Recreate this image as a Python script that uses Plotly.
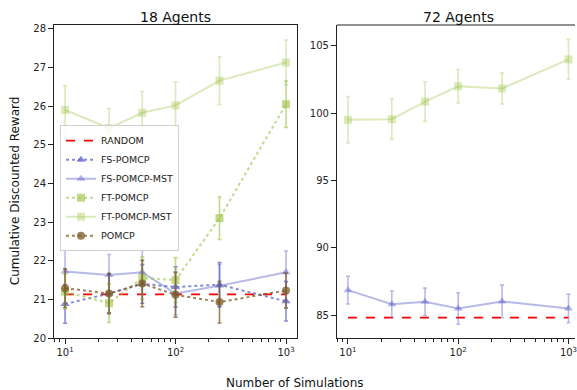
import plotly.graph_objects as go

# ---------------- data ----------------
sims = [10, 25, 50, 100, 250, 1000]

# 18 agents
random_18 = [21.13, 21.13, 21.13, 21.13, 21.13, 21.13]
fs_pomcp_18 = [20.88, 21.15, 21.40, 21.32, 21.38, 20.95]
fs_pomcp_18_err = [0.50, 0.50, 0.50, 0.52, 0.57, 0.51]
fs_mst_18 = [21.72, 21.63, 21.70, 21.15, 21.35, 21.70]
fs_mst_18_err = [0.55, 0.53, 0.57, 0.55, 0.55, 0.55]
ft_pomcp_18 = [21.20, 20.90, 21.55, 21.50, 23.10, 26.05]
ft_pomcp_18_err = [0.45, 0.50, 0.55, 0.58, 0.55, 0.60]
ft_mst_18 = [25.90, 25.43, 25.83, 26.02, 26.66, 27.13]
ft_mst_18_err = [0.63, 0.51, 0.55, 0.61, 0.62, 0.58]
pomcp_18 = [21.29, 21.15, 21.41, 21.12, 20.93, 21.23]
pomcp_18_err = [0.50, 0.52, 0.60, 0.58, 0.54, 0.45]

# 72 agents
random_72 = [84.83, 84.83, 84.83, 84.83, 84.83, 84.83]
ft_mst_72 = [99.50, 99.55, 100.85, 101.99, 101.82, 103.98]
ft_mst_72_err = [1.72, 1.50, 1.47, 1.24, 1.14, 1.49]
fs_mst_72 = [86.87, 85.83, 86.00, 85.51, 86.03, 85.51]
fs_mst_72_err = [1.03, 0.98, 1.02, 1.17, 1.21, 1.06]

x_tickvals = [10, 100, 1000]
x_ticktext = ["10<sup>1</sup>", "10<sup>2</sup>", "10<sup>3</sup>"]
y18_ticks = [20, 21, 22, 23, 24, 25, 26, 27, 28]
y72_ticks = [85, 90, 95, 100, 105]

# ---------------- styles ----------------
FS_DARK = "rgba(95,100,205,0.75)"
FS_LIGHT = "rgba(95,100,205,0.45)"
FT_DARK = "rgba(160,198,75,0.65)"
FT_LIGHT = "rgba(160,198,75,0.38)"
PO = "rgba(125,90,35,0.75)"
RED = "#ff0000"
FONT = "DejaVu Sans"

fig = go.Figure()


def add(name, y, err, color, dash, symbol, xa, ya, show):
    fig.add_trace(go.Scatter(
        x=sims, y=y, name=name, mode="lines+markers",
        line=dict(color=color, width=2, dash=dash),
        marker=dict(color=color, symbol=symbol, size=8, line=dict(width=0)),
        error_y=dict(type="data", array=err, visible=True, color=color,
                     thickness=1.6, width=2),
        xaxis=xa, yaxis=ya, showlegend=show, legendgroup=name,
    ))


# left panel
fig.add_trace(go.Scatter(x=sims, y=random_18, name="RANDOM", mode="lines",
                         line=dict(color=RED, width=1.6, dash="dash"),
                         xaxis="x", yaxis="y", legendgroup="RANDOM"))
add("FS-POMCP", fs_pomcp_18, fs_pomcp_18_err, FS_DARK, "dot", "triangle-up", "x", "y", True)
add("FS-POMCP-MST", fs_mst_18, fs_mst_18_err, FS_LIGHT, "solid", "triangle-up", "x", "y", True)
add("FT-POMCP", ft_pomcp_18, ft_pomcp_18_err, FT_DARK, "dot", "square", "x", "y", True)
add("FT-POMCP-MST", ft_mst_18, ft_mst_18_err, FT_LIGHT, "solid", "square", "x", "y", True)
add("POMCP", pomcp_18, pomcp_18_err, PO, "dot", "circle", "x", "y", True)

# right panel
fig.add_trace(go.Scatter(x=sims, y=random_72, name="RANDOM", mode="lines",
                         line=dict(color=RED, width=1.6, dash="dash"),
                         xaxis="x2", yaxis="y2", showlegend=False, legendgroup="RANDOM"))
add("FS-POMCP-MST", fs_mst_72, fs_mst_72_err, FS_LIGHT, "solid", "triangle-up", "x2", "y2", False)
add("FT-POMCP-MST", ft_mst_72, ft_mst_72_err, FT_LIGHT, "solid", "square", "x2", "y2", False)

minor_vals = [8, 9, 20, 30, 40, 50, 60, 70, 80, 90,
              200, 300, 400, 500, 600, 700, 800, 900]

axis_common = dict(
    showgrid=False, zeroline=False, showline=True, linecolor="#222", linewidth=1,
    ticks="outside", ticklen=5, tickwidth=1, tickcolor="#222",
    tickfont=dict(family=FONT, size=10, color="#222"),
)
xaxis_common = dict(axis_common, type="log", tickmode="array",
                    tickvals=x_tickvals, ticktext=x_ticktext,
                    minor=dict(ticks="outside", ticklen=3, tickwidth=0.8,
                               tickcolor="#222", tickmode="array",
                               tickvals=minor_vals, showgrid=False))

L0, L1 = 0.0, (298 - 54) / 523
R0, R1 = (338 - 54) / 523, 1.0

fig.update_layout(
    width=577, height=390,
    margin=dict(l=54, r=0, t=25, b=52),
    paper_bgcolor="white", plot_bgcolor="white",
    font=dict(family=FONT, size=10, color="#222"),
    xaxis=dict(xaxis_common, domain=[L0, L1], range=[0.9, 3.1], mirror=True, anchor="y"),
    yaxis=dict(axis_common, domain=[0, 1], range=[20, 28.1], tickmode="array",
               tickvals=y18_ticks, mirror=True, anchor="x"),
    xaxis2=dict(xaxis_common, domain=[R0, R1], range=[0.9, 3.059], mirror=False,
                anchor="y2", ticklabeloverflow="allow"),
    yaxis2=dict(axis_common, domain=[0, 1], range=[83.32, 106.53], tickmode="array",
                tickvals=y72_ticks, anchor="x2", mirror=False),
    legend=dict(x=0.0115, y=0.68, xanchor="left", yanchor="top",
                bgcolor="rgba(255,255,255,0.85)", bordercolor="#d0d0d0", borderwidth=1,
                font=dict(family=FONT, size=9.5, color="#222"),
                tracegroupgap=0, itemwidth=30),
    shapes=[dict(type="line", xref="x2 domain", yref="y2 domain", x0=0, x1=1, y0=1, y1=1,
                 line=dict(color="#222", width=1), layer="above")],
    annotations=[
        dict(text="18 Agents", x=(176 - 54) / 523, y=(338 - 16.6) / 313,
             xref="paper", yref="paper", showarrow=False, xanchor="center",
             yanchor="middle", font=dict(family=FONT, size=14, color="#111")),
        dict(text="72 Agents", x=(460 - 54) / 523, y=(338 - 16.6) / 313,
             xref="paper", yref="paper", showarrow=False, xanchor="center",
             yanchor="middle", font=dict(family=FONT, size=14, color="#111")),
        dict(text="Number of Simulations", x=(296 - 54) / 523, y=(338 - 383) / 313,
             xref="paper", yref="paper", showarrow=False, xanchor="center",
             yanchor="middle", font=dict(family=FONT, size=12, color="#111")),
        dict(text="Cumulative Discounted Reward", x=(15 - 54) / 523, y=(338 - 191) / 313,
             xref="paper", yref="paper", showarrow=False, xanchor="center",
             yanchor="middle", textangle=-90, font=dict(family=FONT, size=12, color="#111")),
    ],
)

fig.write_html("out.html", config={"displayModeBar": False},
               post_script="document.body.style.margin='0';document.body.style.overflow='hidden';"
                           "document.documentElement.style.overflow='hidden';")
